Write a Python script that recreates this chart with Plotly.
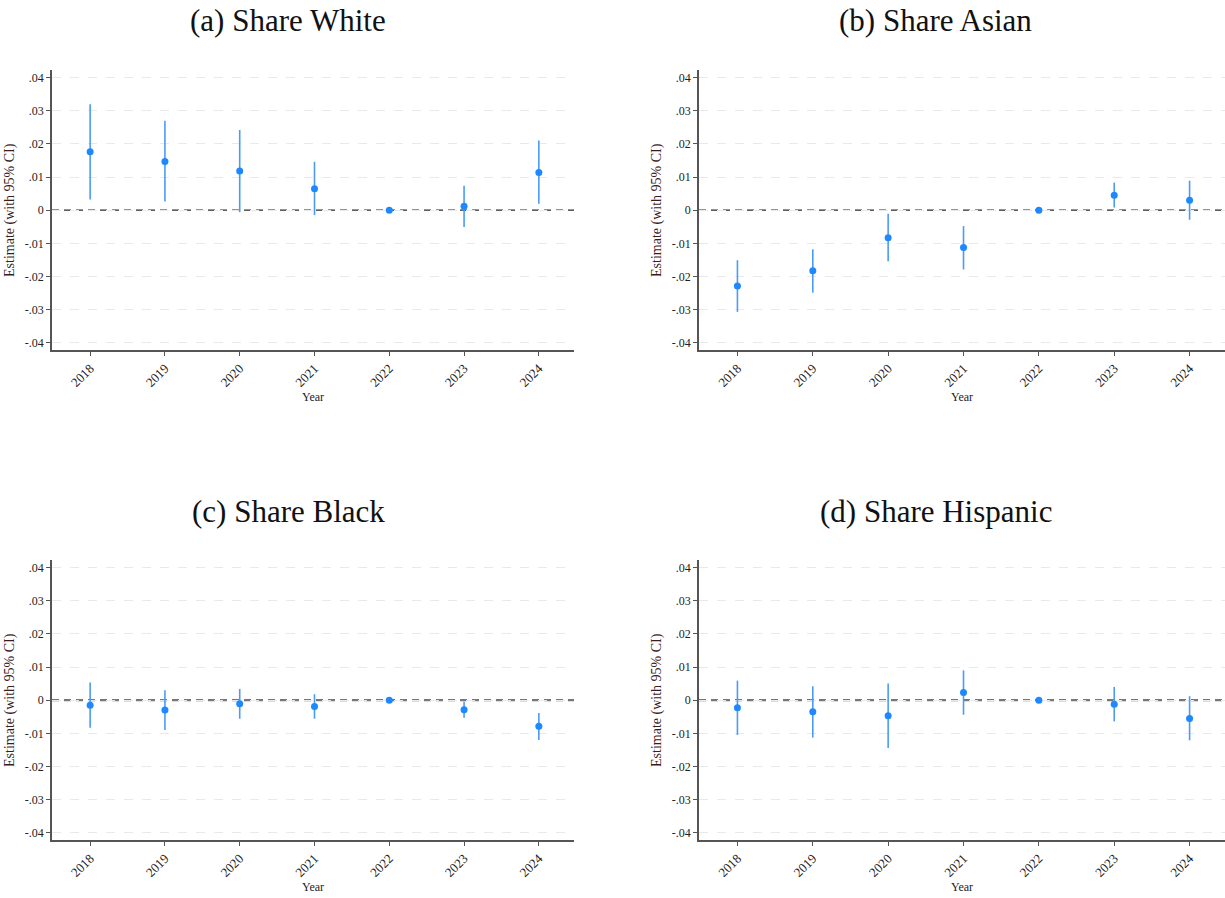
import plotly.graph_objects as go

years = [2018, 2019, 2020, 2021, 2022, 2023, 2024]

titles = ["(a) Share White", "(b) Share Asian", "(c) Share Black", "(d) Share Hispanic"]

# Point estimates and 95% CI bounds per panel
white_est = [0.0176, 0.0147, 0.0118, 0.0065, 0.0, 0.0012, 0.0114]
white_hi = [0.0320, 0.0270, 0.0242, 0.0146, 0.0, 0.0074, 0.0210]
white_lo = [0.0032, 0.0026, -0.0006, -0.0015, 0.0, -0.0051, 0.0019]

asian_est = [-0.0229, -0.0183, -0.0083, -0.0113, 0.0, 0.0045, 0.0030]
asian_hi = [-0.0151, -0.0118, -0.0011, -0.0048, 0.0, 0.0083, 0.0089]
asian_lo = [-0.0307, -0.0249, -0.0154, -0.0179, 0.0, 0.0008, -0.0029]

black_est = [-0.0015, -0.0030, -0.0011, -0.0019, 0.0, -0.0029, -0.0079]
black_hi = [0.0053, 0.0030, 0.0034, 0.0018, 0.0, -0.0005, -0.0039]
black_lo = [-0.0083, -0.0090, -0.0056, -0.0056, 0.0, -0.0053, -0.0120]

hisp_est = [-0.0023, -0.0035, -0.0047, 0.0023, 0.0, -0.0012, -0.0055]
hisp_hi = [0.0059, 0.0042, 0.0050, 0.0090, 0.0, 0.0040, 0.0012]
hisp_lo = [-0.0105, -0.0113, -0.0144, -0.0044, 0.0, -0.0064, -0.0121]

ytick_vals = [-0.04, -0.03, -0.02, -0.01, 0, 0.01, 0.02, 0.03, 0.04]
ytick_text = ["-.04", "-.03", "-.02", "-.01", "0", ".01", ".02", ".03", ".04"]

panels = [
    (white_est, white_hi, white_lo),
    (asian_est, asian_hi, asian_lo),
    (black_est, black_hi, black_lo),
    (hisp_est, hisp_hi, hisp_lo),
]

W, H = 1225, 898
# pixel boxes of the four plot areas: (left, right, top, bottom)
boxes = [
    (52, 574, 70, 350),
    (699, 1225, 70, 350),
    (52, 574, 560, 840),
    (699, 1225, 560, 840),
]
# title centres (x, y) in pixels
title_pos = [(288, 20), (936, 20), (288, 511), (936, 511)]
# y-axis title centres (x, y) in pixels
ytitle_pos = [(10, 210), (657, 210), (10, 700), (657, 700)]

BLUE = "#1E88FF"
CI_BLUE = "#4A9BF7"
SERIF = "Liberation Serif, Times New Roman, serif"

fig = go.Figure()
annotations = []
shapes = []

for i, ((est, hi, lo), box, title, tpos, ypos) in enumerate(
        zip(panels, boxes, titles, title_pos, ytitle_pos)):
    n = i + 1
    xa = "x" if n == 1 else f"x{n}"
    ya = "y" if n == 1 else f"y{n}"
    plus = [h - e for h, e in zip(hi, est)]
    minus = [e - l for e, l in zip(est, lo)]
    fig.add_trace(go.Scatter(
        x=years, y=est, mode="markers", xaxis=xa, yaxis=ya,
        marker=dict(color=BLUE, size=7),
        error_y=dict(type="data", symmetric=False, array=plus, arrayminus=minus,
                     color=CI_BLUE, thickness=1.6, width=0),
        showlegend=False, hoverinfo="skip",
    ))
    left, right, top, bottom = box
    xdom = [left / W, min(right / W, 1.0)]
    ydom = [1 - bottom / H, 1 - top / H]
    xkey = "xaxis" if n == 1 else f"xaxis{n}"
    ykey = "yaxis" if n == 1 else f"yaxis{n}"
    fig.layout[xkey] = dict(
        domain=xdom, anchor=ya, range=[2017.49, 2024.47],
        tickvals=years, ticktext=[str(y) for y in years], tickangle=-45,
        ticks="outside", ticklen=4, tickcolor="#555", tickwidth=1,
        showline=True, linecolor="#555", linewidth=1.5, showgrid=False,
        zeroline=False, tickfont=dict(family=SERIF, size=13, color="#222"),
        title=dict(text="Year", font=dict(family=SERIF, size=12, color="#222"), standoff=2),
    )
    fig.layout[ykey] = dict(
        domain=ydom, anchor=xa, range=[-0.0422, 0.0423],
        tickvals=ytick_vals, ticktext=ytick_text,
        ticks="outside", ticklen=4, tickcolor="#555", tickwidth=1,
        showline=True, linecolor="#555", linewidth=1.5,
        showgrid=True, gridcolor="#e9e9e9", gridwidth=1, griddash="dash",
        zeroline=False, tickfont=dict(family=SERIF, size=12, color="#222"),
    )
    # dashed reference line at zero
    zero_col, zero_w = ("#2a2a2a", 1.3) if n <= 2 else ("#777777", 2.4)
    shapes.append(dict(type="line", xref=f"{xa} domain", yref=ya, x0=0, x1=1, y0=0, y1=0,
                       line=dict(color=zero_col, width=zero_w, dash="7px,5px"), layer="below"))
    annotations.append(dict(
        text=title, xref="paper", yref="paper",
        x=tpos[0] / W, y=1 - tpos[1] / H,
        xanchor="center", yanchor="middle", showarrow=False,
        font=dict(family=SERIF, size=31, color="#111"),
    ))
    annotations.append(dict(
        text="Estimate (with 95% CI)", xref="paper", yref="paper",
        x=ypos[0] / W, y=1 - ypos[1] / H, textangle=-90,
        xanchor="center", yanchor="middle", showarrow=False,
        font=dict(family=SERIF, size=14, color="#3a1c1c"),
    ))

fig.update_layout(
    width=W, height=H, margin=dict(l=0, r=0, t=0, b=0),
    paper_bgcolor="white", plot_bgcolor="white",
    annotations=annotations, shapes=shapes,
)

fig.write_html("out.html")
